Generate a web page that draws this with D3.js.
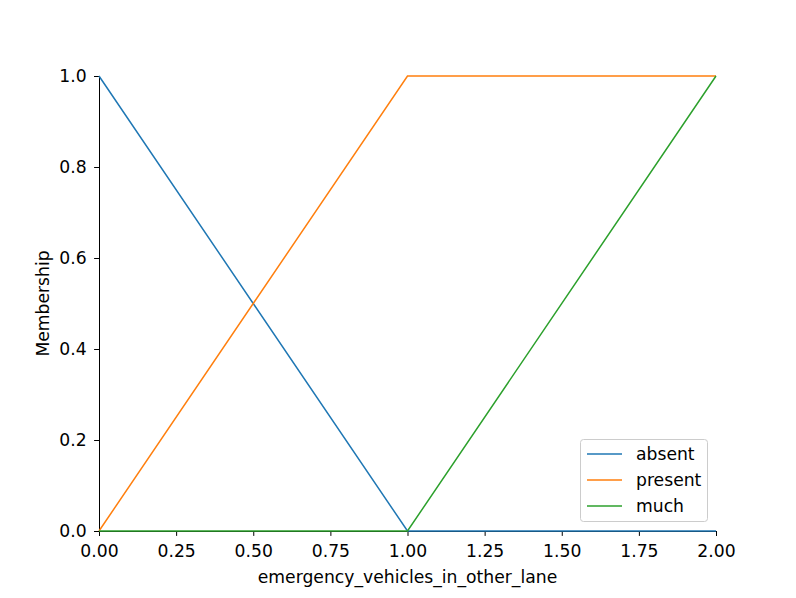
<!DOCTYPE html>
<html><head><meta charset="utf-8">
<script src="https://cdn.jsdelivr.net/npm/d3@7"></script>
<style>body{margin:0;background:#fff}svg{display:block}text{font-family:"DejaVu Sans",sans-serif;fill:#000}</style>
</head><body>
<script>
const xValues = [0, 1, 2];
const absent = [1, 0, 0];
const present = [0, 1, 1];
const much = [0, 0, 1];
const seriesNames = ["absent", "present", "much"];
const seriesColors = ["#1f77b4", "#ff7f0e", "#2ca02c"];
const xTicks = [0, 0.25, 0.5, 0.75, 1.0, 1.25, 1.5, 1.75, 2.0];
const yTicks = [0, 0.2, 0.4, 0.6, 0.8, 1.0];
const xLabel = "emergency_vehicles_in_other_lane";
const yLabel = "Membership";

const W = 796, H = 598;
const L = 99, R = 716, T = 76, B = 531;
const svg = d3.select("body").append("svg").attr("width", W).attr("height", H);
const x = d3.scaleLinear().domain([0, 2]).range([L, R]);
const y = d3.scaleLinear().domain([0, 1]).range([B, T]);
const fs = "17.2px";

const series = [absent, present, much];
const line = d3.line().x(d => x(d[0])).y(d => y(d[1]));

// axes
const xa = svg.append("g").attr("transform", `translate(0,${B})`)
  .call(d3.axisBottom(x).tickValues(xTicks).tickFormat(d3.format(".2f")).tickSizeOuter(0).tickSize(4.9).tickPadding(5));
xa.selectAll("text").attr("y", 26).attr("dy", null);
const ya = svg.append("g").attr("transform", `translate(${L},0)`)
  .call(d3.axisLeft(y).tickValues(yTicks).tickFormat(d3.format(".1f")).tickSizeOuter(0).tickSize(4.9).tickPadding(7.5));
[xa, ya].forEach(g => {
  g.attr("font-size", null).attr("font-family", null);
  g.selectAll("text").style("font-size", fs).style("font-family", "DejaVu Sans");
  g.selectAll("line").attr("stroke", "#000").attr("stroke-width", 1);
  g.select(".domain").attr("stroke", "#000").attr("stroke-width", 1);
});

series.forEach((s, i) => {
  svg.append("path").datum(xValues.map((v, j) => [v, s[j]]))
    .attr("d", line).attr("fill", "none")
    .attr("stroke", seriesColors[i]).attr("stroke-width", 1.5);
});

svg.append("text").attr("x", (L + R) / 2).attr("y", 583).attr("text-anchor", "middle")
  .style("font-size", fs).text(xLabel);
svg.append("text").attr("transform", `translate(49,${(T + B) / 2}) rotate(-90)`)
  .attr("text-anchor", "middle").style("font-size", fs).text(yLabel);

// legend
const lg = svg.append("g");
lg.append("rect").attr("x", 580.5).attr("y", 439.5).attr("width", 127).attr("height", 82)
  .attr("rx", 3).attr("fill", "#fff").attr("fill-opacity", 0.8).attr("stroke", "#ccc").attr("stroke-width", 1);
seriesNames.forEach((n, i) => {
  const yy = 454 + i * 26;
  lg.append("line").attr("x1", 587).attr("x2", 622).attr("y1", yy).attr("y2", yy)
    .attr("stroke", seriesColors[i]).attr("stroke-width", 1.5);
  lg.append("text").attr("x", 636).attr("y", yy + 6).style("font-size", fs).text(n);
});
</script>
</body></html>
